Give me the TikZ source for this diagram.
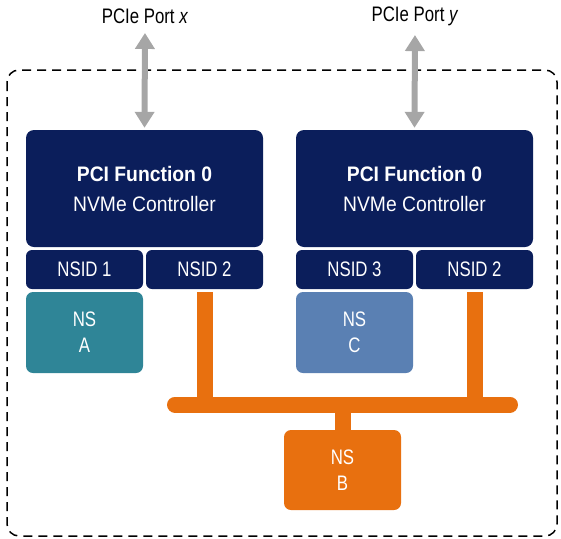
\documentclass[tikz,border=0pt]{standalone}
\usepackage{fontspec}
\setmainfont{Liberation Sans}[FakeStretch=0.92]
\newfontfamily\narrowsans{Liberation Sans}[FakeStretch=0.8]
\usetikzlibrary{arrows.meta}

\definecolor{navy}{HTML}{0B1E5B}
\definecolor{teal}{HTML}{2F8597}
\definecolor{steel}{HTML}{5A80B3}
\definecolor{orng}{HTML}{E8700F}
\definecolor{arrowgray}{HTML}{A6A6A6}

\tikzset{
    ctrl/.style={fill=navy, text=white, rounded corners=8pt, minimum width=237pt,
        minimum height=117pt, align=center, font=\fontsize{21}{30}\selectfont},
    nsid/.style={fill=navy, text=white, rounded corners=6pt, minimum width=117pt,
        minimum height=39pt, font=\narrowsans\fontsize{21}{26}\selectfont},
    nsbox/.style={text=white, rounded corners=7pt, minimum width=117pt,
        minimum height=81pt, align=center, font=\narrowsans\fontsize{21}{26}\selectfont},
    portlabel/.style={font=\narrowsans\fontsize{21}{26}\selectfont},
    port/.style={draw=arrowgray, line width=6pt,
        {Triangle[width=19pt,length=16pt]}-{Triangle[width=19pt,length=16pt]}},
    bus/.style={draw=orng, line width=16pt}
}

\begin{document}
\begin{tikzpicture}[x=1pt, y=-1pt]
    \useasboundingbox (0,0) rectangle (561,538);

    % Subsystem boundary
    \draw[line width=1.5pt, dash pattern=on 9pt off 6pt, rounded corners=12pt]
        (7,70) rectangle (557,536);

    % Controllers
    \node[ctrl] (ctrlx) at (144.5,188.5) {\textbf{PCI Function 0}\\NVMe Controller};
    \node[ctrl] (ctrly) at (414.5,188.5) {\textbf{PCI Function 0}\\NVMe Controller};

    % Namespace IDs
    \node[nsid] (nsida) at (84.5,269.5) {NSID 1};
    \node[nsid] (nsidb) at (204.5,269.5) {NSID 2};
    \node[nsid] (nsidc) at (354.5,269.5) {NSID 3};
    \node[nsid] (nsidd) at (474.5,269.5) {NSID 2};

    % Namespaces
    \node[nsbox, fill=teal] (nsa) at (84.5,332.5) {NS\\A};
    \node[nsbox, fill=steel] (nsc) at (354.5,332.5) {NS\\C};
    \node[nsbox, fill=orng, minimum height=80pt] (nsb) at (342.5,470) {NS\\B};

    % Ports
    \node[portlabel] (portx) at (145,16) {PCIe Port \textit{x}};
    \node[portlabel] (porty) at (415,16) {PCIe Port \textit{y}};
    \draw[port, shorten <=6pt, shorten >=2pt] (portx.south) -- (ctrlx.north);
    \draw[port, shorten <=6pt, shorten >=2pt] (porty.south) -- (ctrly.north);

    % Shared namespace bus
    \coordinate (busl) at (175,404.5);
    \coordinate (busr) at (510,404.5);
    \draw[bus, line cap=round] (busl) -- (busr);
    \draw[bus, shorten <=3pt] (nsidb.south) -- (nsidb.south |- busl);
    \draw[bus, shorten <=3pt] (nsidd.south) -- (nsidd.south |- busr);
    \draw[bus] (nsb.north |- busl) -- (nsb.north);
\end{tikzpicture}
\end{document}
